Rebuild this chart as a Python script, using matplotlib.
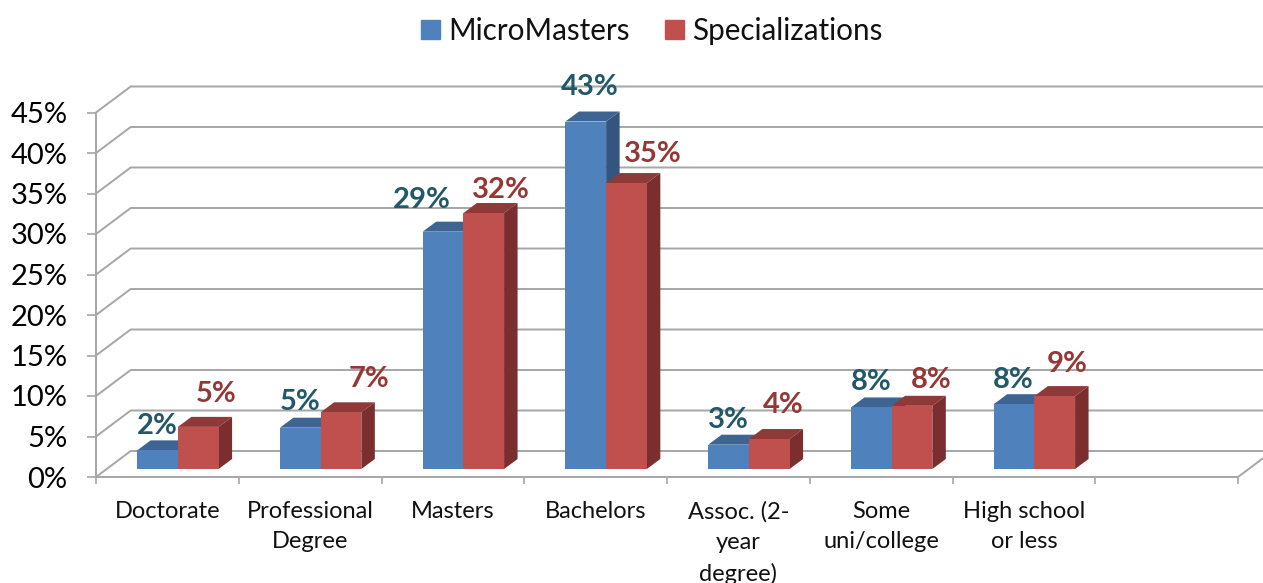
#!/usr/bin/env python3

import matplotlib
matplotlib.use('Agg')
import matplotlib.pyplot as plt
from matplotlib.patches import Polygon, Patch

categories = ['Doctorate', 'Professional\nDegree', 'Masters', 'Bachelors',
              'Assoc. (2-\nyear\ndegree)', 'Some\nuni/college', 'High school\nor less', '']
micromasters = [2.3, 5.1, 29.3, 42.9, 3.0, 7.6, 8.0]
specializations = [5.2, 7.0, 31.6, 35.3, 3.7, 7.8, 9.0]
y_ticks = [0, 5, 10, 15, 20, 25, 30, 35, 40, 45]

GREY = '#A6A6A6'
TEAL = '#215968'
DARK_RED = '#953735'

# sizes in figure pixels, dpi is 100
W, H = 1263, 583
LEFT, RIGHT, BASE, TOP = 96, 1238, 477, 112.5
px_x = (RIGHT - LEFT) / len(categories)
px_y = (BASE - TOP) / max(y_ticks)

# 3d look, all in data units
wall_dx, wall_dy = 34.7 / px_x, 26 / px_y
plane_dx, plane_dy = 10.5 / px_x, 8 / px_y
depth_dx, depth_dy = 13.5 / px_x, 10 / px_y
bar_w = 40.7 / px_x

# label offsets from the top centre of each bar, in pixels
blue_offsets = [(0, 24), (0, 26), (-21, 32), (4, 35), (0, 25), (0, 25), (-1, 24)]
red_offsets = [(18, 33), (28, 33), (17, 23), (26, 29), (14, 34), (19, 26), (12, 32)]

plt.rcParams['font.family'] = ['Lato', 'DejaVu Sans']

fig = plt.figure(figsize=(W / 100, H / 100), dpi=100)
ax = fig.add_axes([LEFT / W, 1 - BASE / H, (RIGHT - LEFT) / W, (BASE - TOP) / H])
ax.set_xlim(0, len(categories))
ax.set_ylim(0, max(y_ticks))

# walls
for y in y_ticks:
    ax.plot([0, wall_dx, len(categories) + wall_dx], [y, y + wall_dy, y + wall_dy],
            color=GREY, lw=1.4, clip_on=False, zorder=1)
ax.plot([len(categories), len(categories) + wall_dx], [0, wall_dy],
        color=GREY, lw=1.4, clip_on=False, zorder=1)


def draw_bars(x_left, values, front, top, side, labels_color, offsets, zorder):
    xs = [x + plane_dx for x in x_left]
    ax.bar(xs, values, width=bar_w, bottom=plane_dy, align='edge', color=front,
           clip_on=False, zorder=zorder + 0.2)
    for x, v, off in zip(xs, values, offsets):
        y = v + plane_dy
        ax.add_patch(Polygon([(x, y), (x + bar_w, y), (x + bar_w + depth_dx, y + depth_dy),
                              (x + depth_dx, y + depth_dy)],
                             facecolor=top, edgecolor='none', clip_on=False, zorder=zorder))
        ax.add_patch(Polygon([(x + bar_w, plane_dy), (x + bar_w + depth_dx, plane_dy + depth_dy),
                              (x + bar_w + depth_dx, y + depth_dy), (x + bar_w, y)],
                             facecolor=side, edgecolor='none', clip_on=False, zorder=zorder))
        ax.annotate(f'{round(v)}%', (x + bar_w / 2, y), xytext=off, textcoords='offset pixels',
                    ha='center', va='center', fontsize=21, fontweight='bold',
                    color=labels_color, zorder=10, annotation_clip=False)


n = len(micromasters)
centers = [i + 0.5 for i in range(n)]
for i in range(n):
    draw_bars([centers[i] - bar_w], [micromasters[i]], '#4F81BD', '#3E6494', '#34557F',
              TEAL, [blue_offsets[i]], 2 + i)
    draw_bars([centers[i]], [specializations[i]], '#C0504D', '#8E3A38', '#7A2F2E',
              DARK_RED, [red_offsets[i]], 2.5 + i)

for name in ['top', 'right']:
    ax.spines[name].set_visible(False)
for name in ['left', 'bottom']:
    ax.spines[name].set_color(GREY)
    ax.spines[name].set_linewidth(1.4)

ax.set_yticks(y_ticks)
ax.set_yticklabels([f'{y}%' for y in y_ticks], fontsize=21, color='black')
ax.tick_params(axis='y', length=6.5, width=1.2, color=GREY, pad=14)

ax.set_xticks(range(len(categories) + 1))
ax.set_xticklabels([])
ax.tick_params(axis='x', which='major', length=5, width=1.2, color=GREY)
ax.set_xticks([i + 0.5 for i in range(len(categories))], minor=True)
ax.set_xticklabels(categories, minor=True, fontsize=17, linespacing=1.56, color='#111111')
ax.tick_params(axis='x', which='minor', length=0, pad=17)

handles = [Patch(color='#4F81BD', label='MicroMasters'), Patch(color='#C0504D', label='Specializations')]
fig.legend(handles=handles, ncol=2, loc='upper center', bbox_to_anchor=(652 / W, 1.017),
           frameon=False, fontsize=21.3, handlelength=0.63, handleheight=0.63,
           handletextpad=0.28, columnspacing=1.2, labelcolor='#111111')

fig.savefig('out.png', dpi=100)
